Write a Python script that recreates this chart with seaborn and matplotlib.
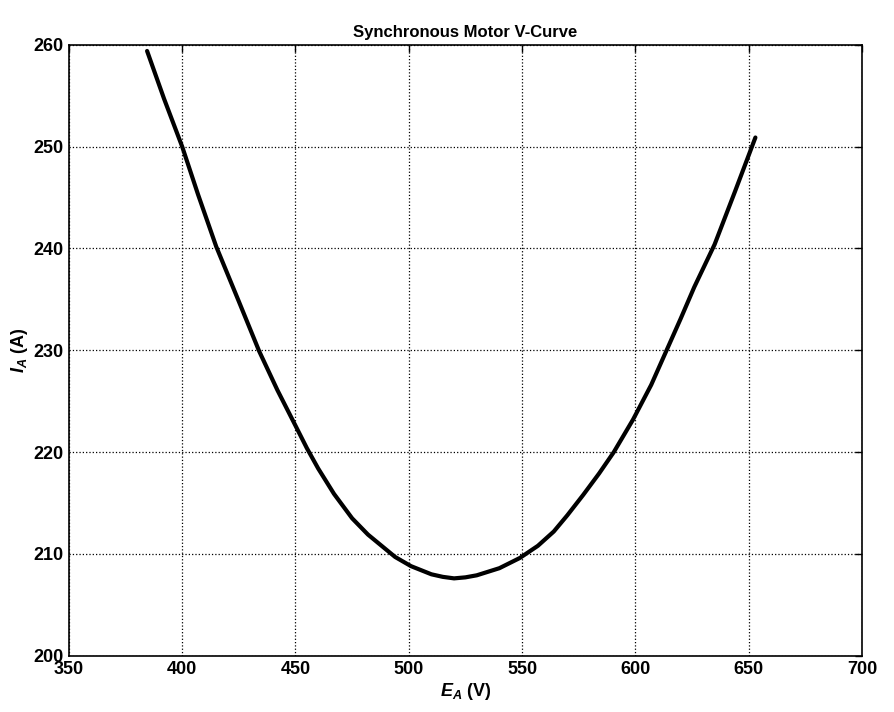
import pandas as pd
import matplotlib
matplotlib.use("Agg")
import matplotlib.pyplot as plt
import seaborn as sns

ea_volts = [384.5, 392, 400, 407, 415, 425, 434, 442, 450, 455, 460, 467, 475, 482, 488, 494, 501, 510, 515, 520,
            525, 530, 540, 549, 557, 564, 570, 577, 584, 590.5, 599, 607, 614, 620, 626, 635, 644, 653]
ia_amps = [259.4, 254.7, 250.0, 245.3, 240.2, 234.8, 229.9, 226.1, 222.6, 220.4, 218.4, 215.9, 213.5, 211.9, 210.8, 209.7,
           208.8, 208.0, 207.75, 207.6,
           207.7, 207.9, 208.6, 209.6, 210.8, 212.2, 213.8, 215.8, 217.9, 220.0, 223.2, 226.6, 230.1, 233.1, 236.2,
           240.4, 245.6, 250.9]

x_ticks = [350, 400, 450, 500, 550, 600, 650, 700]
y_ticks = [200, 210, 220, 230, 240, 250, 260]

df = pd.DataFrame({"EA": ea_volts, "IA": ia_amps})

sns.set_style("white")
plt.rcParams["font.family"] = ["Liberation Sans", "DejaVu Sans"]
plt.rcParams["font.weight"] = "bold"
plt.rcParams["text.color"] = "black"
plt.rcParams["axes.labelcolor"] = "black"
plt.rcParams["xtick.color"] = "black"
plt.rcParams["ytick.color"] = "black"
plt.rcParams["mathtext.fontset"] = "custom"
plt.rcParams["mathtext.it"] = "Liberation Sans:italic:bold"
plt.rcParams["mathtext.rm"] = "Liberation Sans:bold"

fig = plt.figure(figsize=(8.95, 7.12), dpi=100)
ax = fig.add_axes([0.077, 0.079, 0.886, 0.858])

sns.lineplot(data=df, x="EA", y="IA", sort=False, color="black", linewidth=3, ax=ax)

ax.set_xlim(350, 700)
ax.set_ylim(200, 260)
ax.set_xticks(x_ticks)
ax.set_yticks(y_ticks)
ax.grid(True, color="black", linestyle=":", linewidth=0.9)
for s in ax.spines.values():
    s.set_color("black")
    s.set_linewidth(1.2)
ax.tick_params(direction="in", length=5, width=1, colors="black",
               top=True, right=True, labelsize=13, pad=4)
for lab in ax.get_xticklabels() + ax.get_yticklabels():
    lab.set_fontweight("bold")

ax.set_title("Synchronous Motor V-Curve", fontsize=12, fontweight="bold", color="black", pad=6)
ax.set_xlabel(r"$E_A$ (V)", fontsize=13, fontweight="bold", labelpad=2)
ax.set_ylabel(r"$I_A$ (A)", fontsize=13, fontweight="bold", labelpad=2)

fig.savefig("out.png", dpi=100, facecolor="white")
